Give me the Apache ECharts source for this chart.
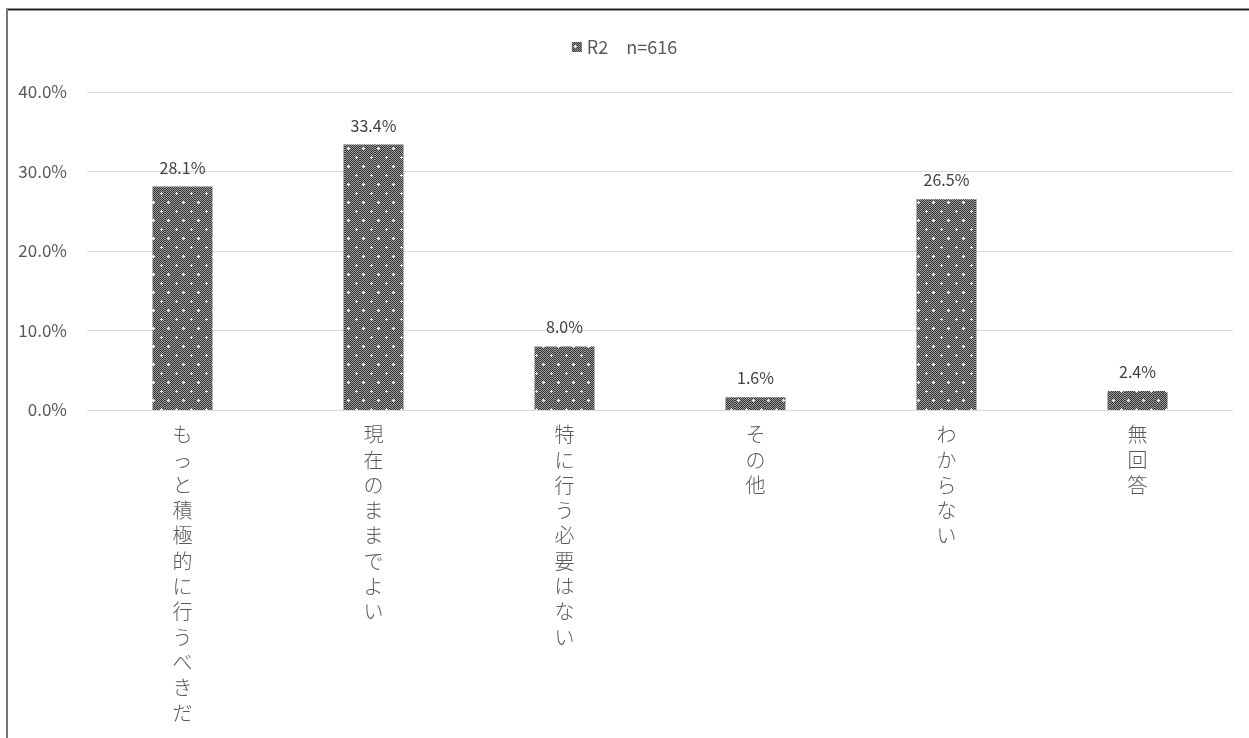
<!DOCTYPE html>
<html><head><meta charset="utf-8">
<script src="https://cdn.jsdelivr.net/npm/echarts@6/dist/echarts.min.js"></script>
<style>html,body{margin:0;padding:0;background:#fff}#c{width:1249px;height:738px}</style>
</head><body><div id="c"></div>
<script>
const categories = ['もっと積極的に行うべきだ','現在のままでよい','特に行う必要はない','その他','わからない','無回答'];
const values = [28.1, 33.4, 8.0, 1.6, 26.5, 2.4];
const seriesName = 'R2　n=616';
const yTicks = [0, 10, 20, 30, 40];

function makePattern(){
  const c = document.createElement('canvas');
  c.width = 15; c.height = 18;
  const g = c.getContext('2d');
  for (let y=0;y<18;y++) for (let x=0;x<15;x++){
    g.fillStyle = ((x+y)%2===0) ? '#353535' : '#9c9c9c';
    g.fillRect(x,y,1,1);
  }
  const dot = (x,y) => {
    g.fillStyle = '#f0f0f0';
    g.fillRect(x-1,y,1,1); g.fillRect(x+1,y,1,1); g.fillRect(x,y-1,1,1); g.fillRect(x,y+1,1,1);
    g.fillStyle = '#ffffff'; g.fillRect(x,y,1,1);
  };
  dot(3,4); dot(11,13);
  return c;
}
const pat = {image: makePattern(), repeat: 'repeat'};
const FONT = '"Noto Sans CJK JP", "Noto Sans", sans-serif';

const chart = echarts.init(document.getElementById('c'));
chart.setOption({
  animation: false,
  textStyle: {fontFamily: FONT},
  legend: {
    top: 33, left: 'center',
    itemWidth: 10, itemHeight: 10, itemGap: 4,
    textStyle: {fontSize: 18, color: '#595959', fontFamily: FONT},
    data: [{name: seriesName, icon: 'rect'}]
  },
  graphic: [
    {type:'line', shape:{x1:6,y1:9.5,x2:1249,y2:9.5}, style:{stroke:'#222', lineWidth:2}},
    {type:'line', shape:{x1:7,y1:9,x2:7,y2:738}, style:{stroke:'#777', lineWidth:2}}
  ],
  grid: {left: 87, right: 16, top: 92, bottom: 328, containLabel: false},
  xAxis: {
    type: 'category', data: categories,
    axisLine: {lineStyle: {color: '#d9d9d9', width: 1}},
    axisTick: {show: false},
    axisLabel: {
      interval: 0, margin: 12, color: '#595959', fontSize: 20, lineHeight: 25.3,
      fontFamily: FONT, fontWeight: 300,
      formatter: v => v.split('').join('\n'), verticalAlign: 'top'
    }
  },
  yAxis: {
    type: 'value', min: 0, max: 40, interval: 10,
    axisLine: {show: false}, axisTick: {show: false},
    splitLine: {lineStyle: {color: '#d9d9d9', width: 1}},
    axisLabel: {
      color: '#595959', fontSize: 17, margin: 20, fontFamily: FONT,
      formatter: v => yTicks.includes(v) ? v.toFixed(1) + '%' : ''
    }
  },
  series: [{
    name: seriesName, type: 'bar', data: values, barWidth: 60,
    itemStyle: {color: pat},
    label: {
      show: true, position: 'top', distance: 11, color: '#404040', fontSize: 16,
      fontFamily: FONT, formatter: p => p.value.toFixed(1) + '%'
    }
  }]
});
</script></body></html>
